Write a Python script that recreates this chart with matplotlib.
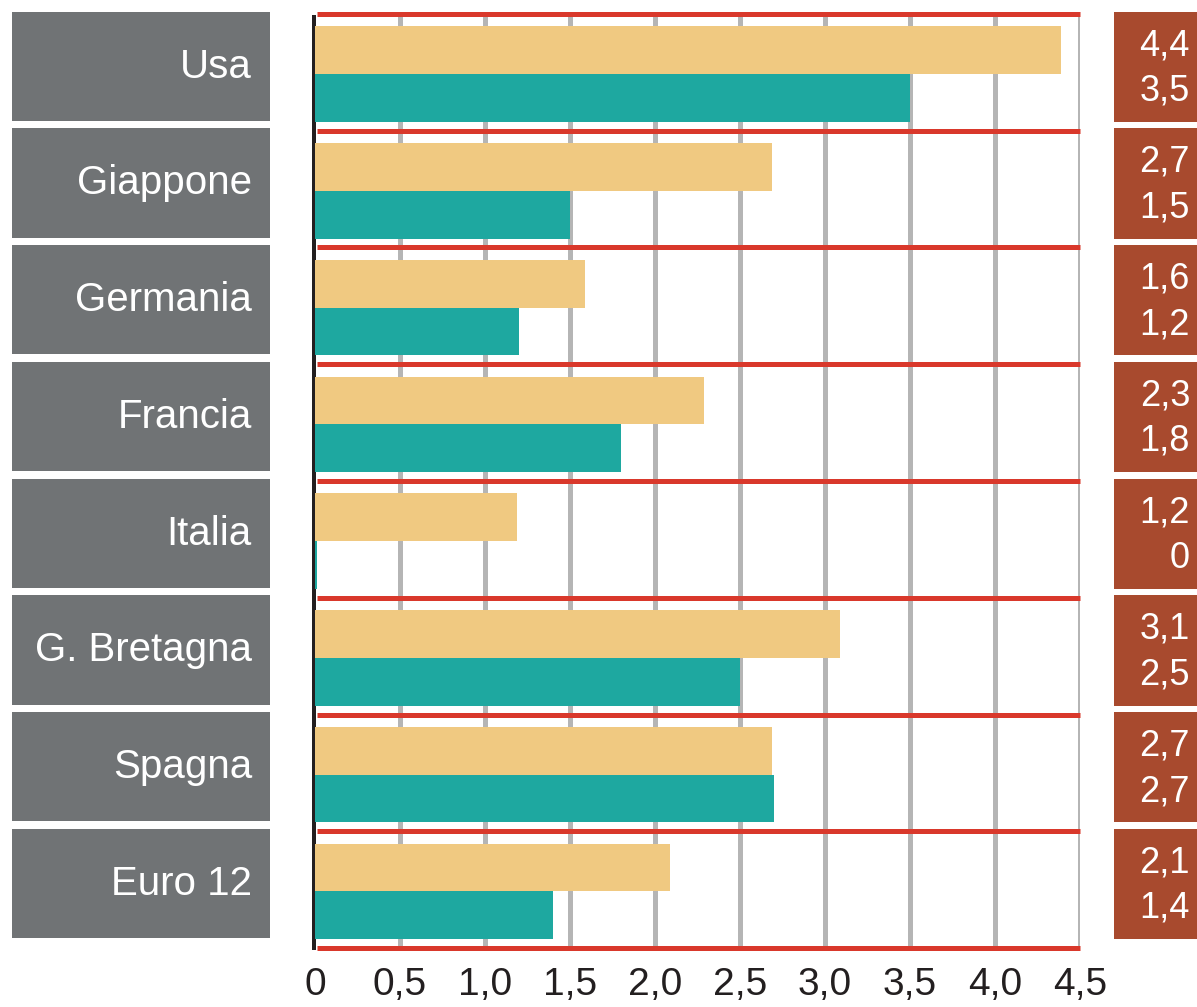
import matplotlib
matplotlib.use("Agg")
import matplotlib.pyplot as plt
import matplotlib.transforms as mtransforms
from matplotlib.patches import Rectangle

countries = ["Usa", "Giappone", "Germania", "Francia", "Italia", "G. Bretagna", "Spagna", "Euro 12"]
series_a = [4.4, 2.7, 1.6, 2.3, 1.2, 3.1, 2.7, 2.1]   # orange
series_b = [3.5, 1.5, 1.2, 1.8, 0.0, 2.5, 2.7, 1.4]   # teal
label_a = ["4,4", "2,7", "1,6", "2,3", "1,2", "3,1", "2,7", "2,1"]
label_b = ["3,5", "1,5", "1,2", "1,8", "0", "2,5", "2,7", "1,4"]
xticks = [0, 0.5, 1.0, 1.5, 2.0, 2.5, 3.0, 3.5, 4.0, 4.5]
xticklabels = ["0", "0,5", "1,0", "1,5", "2,0", "2,5", "3,0", "3,5", "4,0", "4,5"]

FONT = ["Liberation Sans", "DejaVu Sans"]
ORANGE = "#F0C981"
TEAL = "#1EA8A0"
GRAYBOX = "#707375"
BROWN = "#A84A2E"
RED = "#D9382B"
GRID = "#B5B5B5"

W, H = 1197, 1007
fig = plt.figure(figsize=(W / 100, H / 100), dpi=100)
ax = fig.add_axes([315 / W, 1 - 948 / H, (1080 - 315) / W, (948 - 14) / H])
n = len(countries)
ax.set_xlim(0, 4.5)
ax.set_ylim(n, 0)
for s in ax.spines.values():
    s.set_visible(False)

pts = 72 / 100  # points per pixel

# grid lines
for xv in xticks[1:]:
    ax.axvline(xv, ymin=-0.003, ymax=0.997, color=GRID, lw=5 * pts, zorder=1)
# black axis
ax.axvline(-0.006, ymin=0, ymax=0.997, color="#231f20", lw=4 * pts, zorder=1, clip_on=False)
# red separators
for i in range(n + 1):
    ax.plot([0.01, 4.5], [i, i], color=RED, lw=5 * pts, zorder=2, solid_capstyle="butt", clip_on=False)

h = 0.41
ya = [i + 0.31 for i in range(n)]
yb = [i + 0.72 for i in range(n)]
ax.barh(ya, series_a, height=h, left=-0.012, color=ORANGE, zorder=3)
ax.barh(yb, [v + 0.012 if v > 0 else 0.024 for v in series_b], height=h, left=-0.012, color=TEAL, zorder=3)

ax.set_xticks(xticks)
ax.set_xticklabels(xticklabels, fontsize=28, family=FONT, color="#231f20")
ax.tick_params(axis="x", length=0, pad=14)
ax.set_yticks([])

# side boxes
trans = mtransforms.blended_transform_factory(fig.transFigure, ax.transData)
for i in range(n):
    fig_l0, fig_l1 = 12 / W, 270 / W
    ax.add_patch(Rectangle((fig_l0, i - 0.02), fig_l1 - fig_l0, 0.935, transform=trans,
                           facecolor=GRAYBOX, edgecolor="none", clip_on=False, zorder=0))
    ax.text(252 / W, i + 0.45, countries[i], transform=trans, ha="right", va="center",
            fontsize=29, family=FONT, color="white")
    r0, r1 = 1114 / W, 1197 / W
    ax.add_patch(Rectangle((r0, i - 0.02), r1 - r0, 0.945, transform=trans,
                           facecolor=BROWN, edgecolor="none", clip_on=False, zorder=0))
    ax.text(1190 / W, i + 0.27, label_a[i], transform=trans, ha="right", va="center",
            fontsize=26, family=FONT, color="white")
    ax.text(1190 / W, i + 0.66, label_b[i], transform=trans, ha="right", va="center",
            fontsize=26, family=FONT, color="white")

fig.savefig("out.png", dpi=100, facecolor="white")
